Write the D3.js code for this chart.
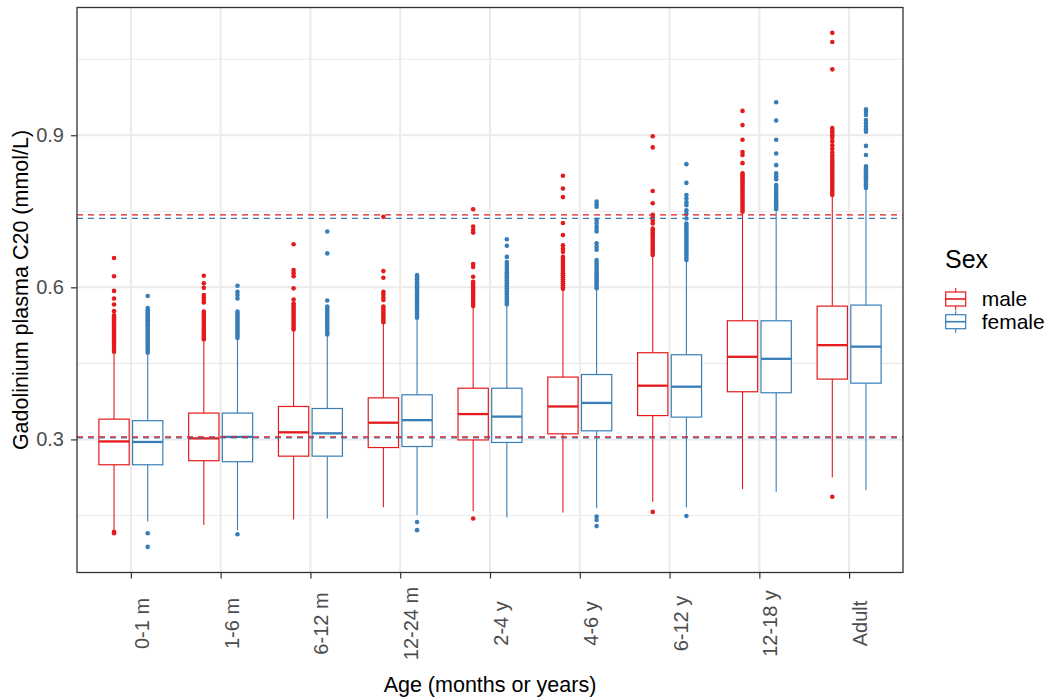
<!DOCTYPE html>
<html>
<head>
<meta charset="utf-8">
<script src="https://cdn.jsdelivr.net/npm/d3@7"></script>
<style>
  body { margin: 0; background: #fff; }
  svg { font-family: "Liberation Sans", Arial, sans-serif; }
</style>
</head>
<body>
<script>
// Age groups and sexes
const ageGroups = ["0-1 m", "1-6 m", "6-12 m", "12-24 m", "2-4 y", "4-6 y", "6-12 y", "12-18 y", "Adult"];
const sexes = ["male", "female"];

// Box statistics, one value per age group
const maleLow    = [0.122, 0.131, 0.142, 0.166, 0.159, 0.156, 0.177, 0.202, 0.225];
const maleQ1     = [0.250, 0.258, 0.267, 0.284, 0.299, 0.311, 0.347, 0.394, 0.419];
const maleMedian = [0.296, 0.302, 0.314, 0.333, 0.350, 0.365, 0.406, 0.463, 0.486];
const maleQ3     = [0.340, 0.352, 0.365, 0.382, 0.401, 0.423, 0.471, 0.534, 0.563];
const maleHigh   = [0.470, 0.493, 0.516, 0.530, 0.559, 0.595, 0.662, 0.745, 0.779];

const femaleLow    = [0.138, 0.121, 0.144, 0.151, 0.146, 0.164, 0.166, 0.197, 0.200];
const femaleQ1     = [0.250, 0.256, 0.267, 0.286, 0.294, 0.317, 0.344, 0.392, 0.411];
const femaleMedian = [0.295, 0.305, 0.312, 0.338, 0.345, 0.372, 0.404, 0.459, 0.483];
const femaleQ3     = [0.337, 0.352, 0.361, 0.388, 0.401, 0.428, 0.467, 0.534, 0.565];
const femaleHigh   = [0.467, 0.496, 0.504, 0.536, 0.562, 0.595, 0.651, 0.749, 0.794];

const maleOutliers = [
  [0.118, 0.115, 0.658, 0.622, 0.593, 0.578, 0.566, 0.553, 0.545, 0.541, 0.537, 0.533, 0.529, 0.525, 0.521, 0.517, 0.513, 0.509, 0.505, 0.501, 0.497, 0.493, 0.489, 0.485, 0.481, 0.477, 0.473],
  [0.623, 0.608, 0.599, 0.585, 0.580, 0.575, 0.570, 0.552, 0.548, 0.544, 0.540, 0.536, 0.532, 0.528, 0.524, 0.520, 0.516, 0.512, 0.508, 0.504, 0.500, 0.497],
  [0.685, 0.634, 0.628, 0.622, 0.598, 0.576, 0.568, 0.564, 0.560, 0.556, 0.552, 0.548, 0.544, 0.540, 0.536, 0.532, 0.528, 0.524, 0.520, 0.517],
  [0.739, 0.632, 0.619, 0.591, 0.586, 0.580, 0.575, 0.562, 0.558, 0.554, 0.550, 0.546, 0.542, 0.538, 0.534, 0.531],
  [0.144, 0.754, 0.720, 0.713, 0.708, 0.646, 0.640, 0.621, 0.611, 0.607, 0.603, 0.599, 0.595, 0.591, 0.587, 0.583, 0.579, 0.575, 0.571, 0.567, 0.563],
  [0.820, 0.795, 0.778, 0.727, 0.703, 0.683, 0.676, 0.670, 0.660, 0.656, 0.652, 0.648, 0.644, 0.640, 0.636, 0.632, 0.628, 0.624, 0.620, 0.616, 0.612, 0.608, 0.604, 0.600, 0.597],
  [0.157, 0.898, 0.876, 0.790, 0.766, 0.743, 0.738, 0.732, 0.726, 0.716, 0.712, 0.708, 0.704, 0.700, 0.696, 0.692, 0.688, 0.684, 0.680, 0.676, 0.672, 0.668, 0.664],
  [0.948, 0.920, 0.891, 0.867, 0.861, 0.845, 0.825, 0.821, 0.817, 0.813, 0.809, 0.805, 0.801, 0.797, 0.793, 0.789, 0.785, 0.781, 0.777, 0.773, 0.769, 0.765, 0.761, 0.757, 0.753, 0.749],
  [0.187, 1.102, 1.084, 1.030, 0.914, 0.909, 0.905, 0.900, 0.895, 0.888, 0.880, 0.873, 0.866, 0.860, 0.855, 0.850, 0.846, 0.842, 0.838, 0.834, 0.830, 0.826, 0.822, 0.818, 0.814, 0.810, 0.806, 0.802, 0.798, 0.794, 0.790, 0.786, 0.782]
];

const femaleOutliers = [
  [0.115, 0.088, 0.583, 0.559, 0.555, 0.551, 0.547, 0.543, 0.539, 0.535, 0.531, 0.527, 0.523, 0.519, 0.515, 0.511, 0.507, 0.503, 0.499, 0.495, 0.491, 0.487, 0.483, 0.479, 0.475, 0.471],
  [0.113, 0.603, 0.591, 0.585, 0.578, 0.552, 0.548, 0.544, 0.540, 0.536, 0.532, 0.528, 0.524, 0.520, 0.516, 0.512, 0.508, 0.504, 0.500],
  [0.710, 0.667, 0.574, 0.562, 0.558, 0.554, 0.550, 0.546, 0.542, 0.538, 0.534, 0.530, 0.526, 0.522, 0.518, 0.514, 0.510, 0.507],
  [0.137, 0.121, 0.624, 0.620, 0.616, 0.612, 0.608, 0.604, 0.600, 0.596, 0.592, 0.588, 0.584, 0.580, 0.576, 0.572, 0.568, 0.564, 0.560, 0.556, 0.552, 0.548, 0.544, 0.540],
  [0.695, 0.682, 0.660, 0.650, 0.646, 0.642, 0.638, 0.634, 0.630, 0.626, 0.622, 0.618, 0.614, 0.610, 0.606, 0.602, 0.598, 0.594, 0.590, 0.586, 0.582, 0.578, 0.574, 0.570, 0.566],
  [0.148, 0.141, 0.129, 0.769, 0.764, 0.759, 0.733, 0.727, 0.720, 0.715, 0.710, 0.687, 0.680, 0.674, 0.654, 0.650, 0.646, 0.642, 0.638, 0.634, 0.630, 0.626, 0.622, 0.618, 0.614, 0.610, 0.606, 0.602, 0.598],
  [0.149, 0.843, 0.806, 0.782, 0.775, 0.768, 0.762, 0.752, 0.745, 0.736, 0.726, 0.722, 0.718, 0.714, 0.710, 0.706, 0.702, 0.698, 0.694, 0.690, 0.686, 0.682, 0.678, 0.674, 0.670, 0.666, 0.662, 0.658, 0.654],
  [0.965, 0.929, 0.891, 0.864, 0.841, 0.825, 0.819, 0.813, 0.802, 0.798, 0.794, 0.790, 0.786, 0.782, 0.778, 0.774, 0.770, 0.766, 0.762, 0.758, 0.754],
  [0.951, 0.946, 0.940, 0.930, 0.924, 0.918, 0.912, 0.907, 0.879, 0.861, 0.839, 0.835, 0.831, 0.827, 0.823, 0.819, 0.815, 0.811, 0.807, 0.803, 0.799, 0.796]
];

// Reference lines (dashed)
const maleRefLines = [0.305, 0.743];
const femaleRefLines = [0.303, 0.736];

const yTicks = [0.3, 0.6, 0.9];
const yMinorTicks = [0.15, 0.45, 0.75, 1.05];

// Build box records
const boxes = [];
ageGroups.forEach((g, i) => {
  boxes.push({ group: g, sex: "male", low: maleLow[i], q1: maleQ1[i], median: maleMedian[i], q3: maleQ3[i], high: maleHigh[i], out: maleOutliers[i] });
  boxes.push({ group: g, sex: "female", low: femaleLow[i], q1: femaleQ1[i], median: femaleMedian[i], q3: femaleQ3[i], high: femaleHigh[i], out: femaleOutliers[i] });
});

// Dimensions
const margin = { top: 7.5, right: 147, bottom: 127.5, left: 77 },
    width = 1050 - margin.left - margin.right,
    height = 700 - margin.top - margin.bottom;

const svg = d3.select("body")
    .append("svg")
    .attr("width", 1050)
    .attr("height", 700);

const g = svg.append("g")
    .attr("transform", `translate(${margin.left},${margin.top})`);

// Scales
const x = d3.scalePoint()
    .domain(ageGroups)
    .range([0, width])
    .padding(0.6);

const y = d3.scaleLinear()
    .domain([0.0375, 1.152])
    .range([height, 0]);

const color = d3.scaleOrdinal()
    .domain(sexes)
    .range(["#E41A1C", "#377EB8"]);

const dodge = d3.scaleBand()
    .domain(sexes)
    .range([-0.375, 0.375])
    .paddingInner(0);
const boxW = 0.375 * 0.9 * x.step();
const cx = d => x(d.group) + (dodge(d.sex) + dodge.bandwidth() / 2) * x.step();

// Grid
g.selectAll(".minor")
    .data(yMinorTicks)
    .enter()
    .append("line")
    .attr("x1", 0).attr("x2", width)
    .attr("y1", d => y(d)).attr("y2", d => y(d))
    .attr("stroke", "#EBEBEB")
    .attr("stroke-width", 1.1);

g.selectAll(".major")
    .data(yTicks)
    .enter()
    .append("line")
    .attr("x1", 0).attr("x2", width)
    .attr("y1", d => y(d)).attr("y2", d => y(d))
    .attr("stroke", "#EBEBEB")
    .attr("stroke-width", 2);

g.selectAll(".vmajor")
    .data(ageGroups)
    .enter()
    .append("line")
    .attr("x1", d => x(d)).attr("x2", d => x(d))
    .attr("y1", 0).attr("y2", height)
    .attr("stroke", "#EBEBEB")
    .attr("stroke-width", 2);

// Boxplots
const bg = g.selectAll(".box")
    .data(boxes)
    .enter()
    .append("g");

bg.append("line")
    .attr("x1", cx).attr("x2", cx)
    .attr("y1", d => y(d.high)).attr("y2", d => y(d.q3))
    .attr("stroke", d => color(d.sex))
    .attr("stroke-width", 1.1);

bg.append("line")
    .attr("x1", cx).attr("x2", cx)
    .attr("y1", d => y(d.q1)).attr("y2", d => y(d.low))
    .attr("stroke", d => color(d.sex))
    .attr("stroke-width", 1.1);

bg.append("rect")
    .attr("x", d => cx(d) - boxW / 2)
    .attr("width", boxW)
    .attr("y", d => y(d.q3))
    .attr("height", d => y(d.q1) - y(d.q3))
    .attr("fill", "white")
    .attr("stroke", d => color(d.sex))
    .attr("stroke-width", 1.2);

bg.append("line")
    .attr("x1", d => cx(d) - boxW / 2).attr("x2", d => cx(d) + boxW / 2)
    .attr("y1", d => y(d.median)).attr("y2", d => y(d.median))
    .attr("stroke", d => color(d.sex))
    .attr("stroke-width", 2.3);

bg.selectAll("circle")
    .data(d => d.out.map(v => ({ v: v, sex: d.sex, cx: cx(d) })))
    .enter()
    .append("circle")
    .attr("cx", d => d.cx)
    .attr("cy", d => y(d.v))
    .attr("r", 2.3)
    .attr("fill", d => color(d.sex));

// Dashed reference lines
const refs = [];
femaleRefLines.forEach(v => refs.push({ v: v, sex: "female" }));
maleRefLines.forEach(v => refs.push({ v: v, sex: "male" }));
g.selectAll(".ref")
    .data(refs)
    .enter()
    .append("line")
    .attr("x1", 0).attr("x2", width)
    .attr("y1", d => y(d.v)).attr("y2", d => y(d.v))
    .attr("stroke", d => color(d.sex))
    .attr("stroke-width", 1.1)
    .attr("stroke-dasharray", "6,5");

// Panel border
g.append("rect")
    .attr("width", width)
    .attr("height", height)
    .attr("fill", "none")
    .attr("stroke", "#333333")
    .attr("stroke-width", 1.3);

// Axes
const yAxis = g.append("g")
    .call(d3.axisLeft(y).tickValues(yTicks).tickFormat(d3.format(".1f")).tickSize(6).tickPadding(7));
yAxis.select(".domain").remove();
yAxis.selectAll("line").attr("stroke", "#333333").attr("stroke-width", 1.2);
yAxis.selectAll("text").attr("fill", "#4D4D4D").style("font-size", "20px").style("font-family", "Liberation Sans, Arial, sans-serif");

const xAxis = g.append("g")
    .attr("transform", `translate(0,${height})`)
    .call(d3.axisBottom(x).tickSize(6));
xAxis.select(".domain").remove();
xAxis.selectAll("line").attr("stroke", "#333333").attr("stroke-width", 1.2);
xAxis.selectAll("text")
    .attr("x", null).attr("y", null).attr("dy", null)
    .attr("transform", "translate(17.5,51) rotate(-90)")
    .attr("text-anchor", "middle")
    .attr("fill", "#4D4D4D")
    .style("font-size", "20px")
    .style("font-family", "Liberation Sans, Arial, sans-serif");

// Axis titles
svg.append("text")
    .attr("x", margin.left + width / 2)
    .attr("y", 692)
    .attr("text-anchor", "middle")
    .style("font-size", "21.5px")
    .text("Age (months or years)");

svg.append("text")
    .attr("transform", `translate(28,${margin.top + height / 2}) rotate(-90)`)
    .attr("text-anchor", "middle")
    .style("font-size", "21.5px")
    .text("Gadolinium plasma C20 (mmol/L)");

// Legend
const legend = svg.append("g")
    .attr("transform", "translate(945,0)");

legend.append("text")
    .attr("x", 0)
    .attr("y", 268)
    .style("font-size", "25px")
    .text("Sex");

sexes.forEach((s, i) => {
    const ky = 299 + i * 22.7;
    legend.append("line")
        .attr("x1", 10.7).attr("x2", 10.7)
        .attr("y1", ky - 11).attr("y2", ky + 11)
        .attr("stroke", color(s))
        .attr("stroke-width", 1.1);
    legend.append("rect")
        .attr("x", 0.7).attr("y", ky - 7)
        .attr("width", 20).attr("height", 14)
        .attr("fill", "white")
        .attr("stroke", color(s))
        .attr("stroke-width", 1.2);
    legend.append("line")
        .attr("x1", 0.7).attr("x2", 20.7)
        .attr("y1", ky).attr("y2", ky)
        .attr("stroke", color(s))
        .attr("stroke-width", 1.6);
    legend.append("text")
        .attr("x", 36.7)
        .attr("y", ky)
        .attr("dy", "0.35em")
        .style("font-size", "21px")
        .text(s);
});
</script>
</body>
</html>
